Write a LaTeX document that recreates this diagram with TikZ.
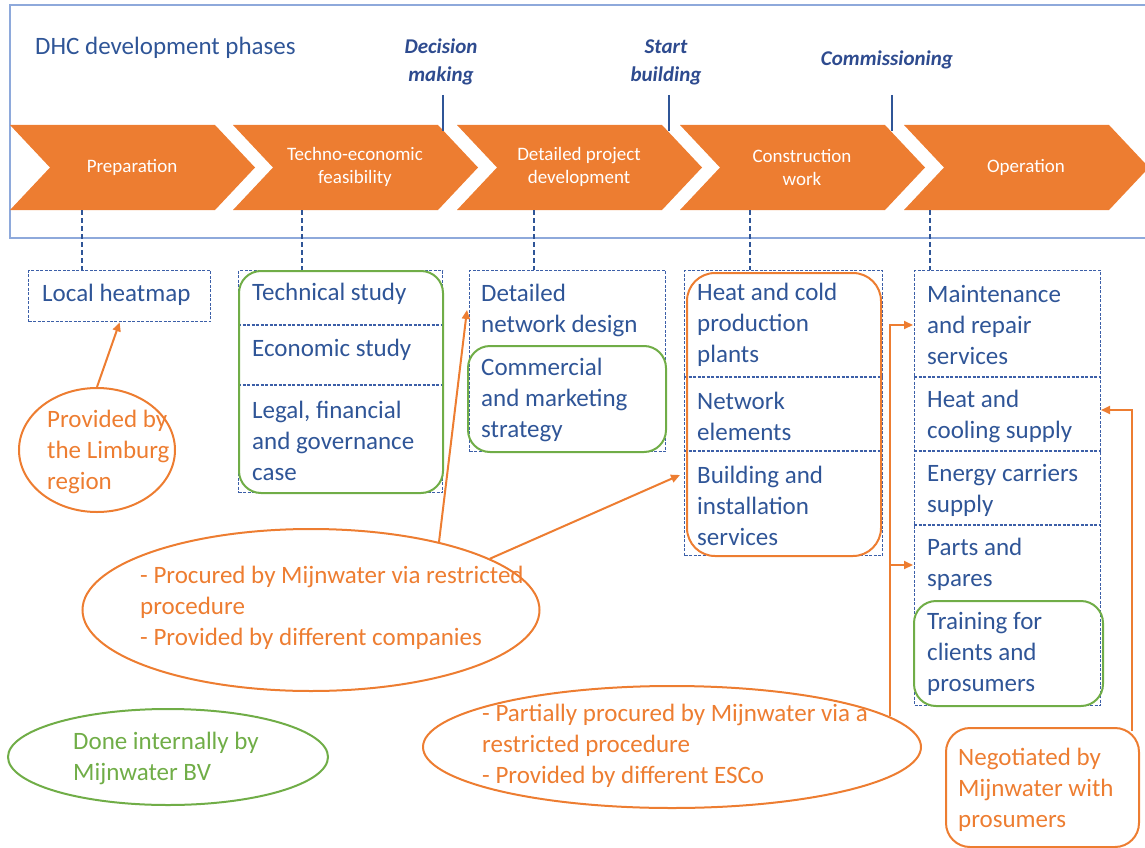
\documentclass[tikz,border=0pt]{standalone}
\usepackage{fontspec}
\setmainfont{Carlito}
\usetikzlibrary{arrows.meta,shapes.geometric,calc}
\definecolor{orng}{HTML}{ED7D31}
\definecolor{grn}{HTML}{70AD47}
\definecolor{dblue}{HTML}{2F5597}
\definecolor{dashblue}{HTML}{3C5FA8}
\definecolor{frameblue}{HTML}{8EA9DB}
\definecolor{msblue}{HTML}{2E4B8F}
\begin{document}
\begin{tikzpicture}[x=1pt,y=-1pt,
  chev/.style={text=white,font=\fontsize{19}{23}\selectfont,align=center,inner sep=0pt},
  mstext/.style={text=msblue,font=\fontsize{21}{28}\selectfont\bfseries\itshape,align=center,inner sep=0pt},
  btxt/.style={text=dblue,font=\fontsize{25}{31}\selectfont,align=left,anchor=west,inner sep=0pt},
  otxt/.style={text=orng,font=\fontsize{25}{31}\selectfont,align=left,anchor=west,inner sep=0pt},
  gtxt/.style={text=grn,font=\fontsize{25}{31}\selectfont,align=left,anchor=west,inner sep=0pt},
  dashbox/.style={draw=dashblue,line width=1.3pt,dash pattern=on 3pt off 1.5pt,anchor=north west,inner sep=0pt},
  sepline/.style={draw=dashblue,line width=1.3pt,dash pattern=on 3pt off 1.5pt},
  gbox/.style={draw=grn,line width=2pt,rounded corners=22pt,anchor=north west,inner sep=0pt},
  obox/.style={draw=orng,line width=2pt,rounded corners=28pt,anchor=north west,inner sep=0pt},
  oell/.style={draw=orng,line width=2pt,ellipse,inner sep=0pt},
  gell/.style={draw=grn,line width=2pt,ellipse,inner sep=0pt},
  vdash/.style={draw=dblue,line width=1.6pt,dash pattern=on 5pt off 3pt},
  tick/.style={draw=dblue,line width=2.2pt},
  oarr/.style={draw=orng,line width=2pt,-{Triangle[length=9pt,width=8pt]}},
]
\useasboundingbox (0,0) rectangle (1145,848);
% frame
\draw[frameblue,line width=1.6pt] (1150,5) -- (10,5) -- (10,238) -- (1150,238);
\node[text=dblue,font=\fontsize{25}{31}\selectfont,anchor=west,inner sep=0pt] (title) at (35,48) {DHC development phases};
% chevrons
\foreach \L in {10,233,457,680,904}{
  \fill[orng] (\L,125) -- ++(205,0) -- ++(40,42.5) -- ++(-40,42.5) -- ++(-205,0) -- ++(40,-42.5) -- cycle;}
\node[chev] (p1) at (132,167) {Preparation};
\node[chev] (p2) at (355,167) {Techno-economic\\feasibility};
\node[chev] (p3) at (579,167) {Detailed project\\development};
\node[chev] (p4) at (802,167) {Construction\\work};
\node[chev] (p5) at (1026,167) {Operation};
% milestones
\coordinate (t1a) at (443,95); \coordinate (t1b) at (443,131);
\coordinate (t2a) at (669,95); \coordinate (t2b) at (669,131);
\coordinate (t3a) at (892,95); \coordinate (t3b) at (892,131);
\draw[tick] (t1a) -- (t1b);
\draw[tick] (t2a) -- (t2b);
\draw[tick] (t3a) -- (t3b);
\node[mstext] (m1) at (441,62) {Decision\\making};
\node[mstext] (m2) at (666,62) {Start\\building};
\node[mstext] (m3) at (887,60) {Commissioning};
% boxes
\node[dashbox,minimum width=182,minimum height=51] (heat) at (28,270) {};
\node[btxt] (heatT) at (42,295) {Local heatmap};

\node[dashbox,minimum width=204,minimum height=222] (tech) at (238,270) {};
\draw[sepline] (tech.west |- 0,325) -- (tech.east |- 0,325);
\draw[sepline] (tech.west |- 0,385) -- (tech.east |- 0,385);
\node[gbox,minimum width=204,minimum height=222] (techG) at (238,270) {};
\node[btxt] (tech1) at (252,294) {Technical study};
\node[btxt] (tech2) at (252,350) {Economic study};
\node[btxt] (tech3) at (252,441) {Legal, financial\\and governance\\case};

\node[dashbox,minimum width=196,minimum height=181] (det) at (469,270) {};
\node[gbox,minimum width=198,minimum height=106] (detG) at (467,345) {};
\node[btxt] (det1) at (481,310) {Detailed\\network design};
\node[btxt] (det2) at (481,400) {Commercial\\and marketing\\strategy};

\node[dashbox,minimum width=198,minimum height=285] (cons) at (684,270) {};
\draw[sepline] (cons.west |- 0,377) -- (cons.east |- 0,377);
\draw[sepline] (cons.west |- 0,451) -- (cons.east |- 0,451);
\node[obox,minimum width=194,minimum height=283] (consO) at (686,272) {};
\node[btxt] (cons1) at (697,325) {Heat and cold\\production\\plants};
\node[btxt] (cons2) at (697,416) {Network\\elements};
\node[btxt] (cons3) at (697,506) {Building and\\installation\\services};

\node[dashbox,minimum width=186,minimum height=435] (op) at (914,270) {};
\draw[sepline] (op.west |- 0,377) -- (op.east |- 0,377);
\draw[sepline] (op.west |- 0,451) -- (op.east |- 0,451);
\draw[sepline] (op.west |- 0,525) -- (op.east |- 0,525);
\node[gbox,minimum width=189,minimum height=105] (opG) at (913,600) {};
\node[btxt] (op1) at (927,325) {Maintenance\\and repair\\services};
\node[btxt] (op2) at (927,416) {Heat and\\cooling supply};
\node[btxt] (op3) at (927,490) {Energy carriers\\supply};
\node[btxt] (op4) at (927,564) {Parts and\\spares};
\node[btxt] (op5) at (927,654) {Training for\\clients and\\prosumers};

% dashed connectors from phases
\coordinate (b1) at (82,210);
\coordinate (b2) at (302,210);
\coordinate (b3) at (534,210);
\coordinate (b4) at (750,210);
\coordinate (b5) at (930,210);
\draw[vdash] (b1) -- (b1 |- heat.north);
\draw[vdash] (b2) -- (b2 |- tech.north);
\draw[vdash] (b3) -- (b3 |- det.north);
\draw[vdash] (b4) -- (b4 |- cons.north);
\draw[vdash] (b5) -- (b5 |- op.north);

% ellipses
\node[oell,minimum width=156,minimum height=124] (limb) at (97,450) {};
\node[otxt] (limbT) at (47,452) {Provided by\\the Limburg\\region};
\node[oell,minimum width=457,minimum height=162] (proc) at (311,610) {};
\node[otxt] (procT) at (140,608) {- Procured by Mijnwater via restricted\\procedure\\- Provided by different companies};
\node[gell,minimum width=320,minimum height=96] (done) at (168,757) {};
\node[gtxt] (doneT) at (73,758) {Done internally by\\Mijnwater BV};
\node[oell,minimum width=498,minimum height=122] (esco) at (672,747) {};
\node[otxt] (escoT) at (482,746) {- Partially procured by Mijnwater via a\\restricted procedure\\- Provided by different ESCo};
\node[obox,rounded corners=24pt,minimum width=193,minimum height=119] (nego) at (945,727) {};
\node[otxt] (negoT) at (958,790) {Negotiated by\\Mijnwater with\\prosumers};

% orange arrows
\draw[oarr] (limb.north) -- (heat.south);
\coordinate (detIn) at (467,310);
\coordinate (consIn) at (680,475);
\draw[oarr] (proc.28) -- (detIn);
\draw[oarr] (proc.16) -- (consIn);
\coordinate (opA) at (913,325);
\coordinate (opB) at (913,565);
\draw[oarr] (esco.8) |- (opA);
\draw[oarr] (esco.8 |- opB) -- (opB);
\coordinate (opC) at (1101,410);
\coordinate (negoTop) at (1132,731);
\draw[oarr] (negoTop) |- (opC);
\end{tikzpicture}
\end{document}
